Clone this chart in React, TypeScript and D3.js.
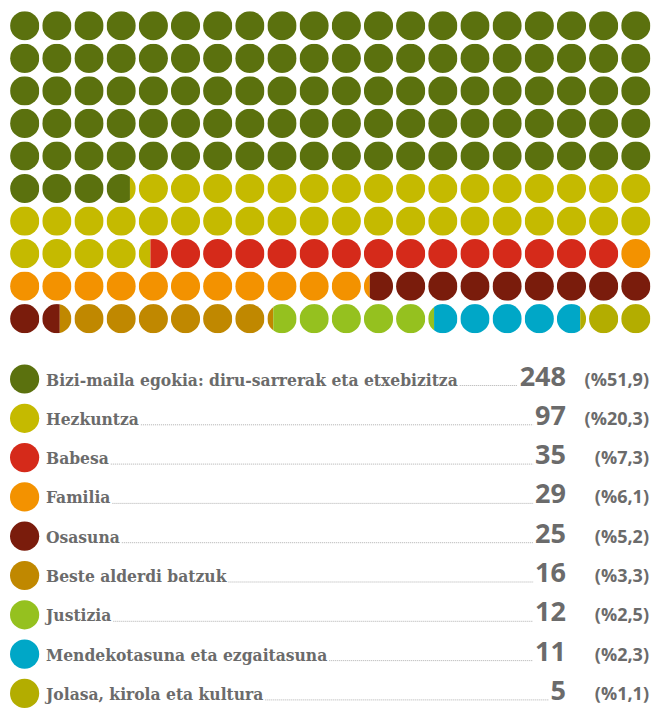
import React, { useRef, useEffect } from 'react'
import * as d3 from 'd3'

const categories = [
  'Bizi-maila egokia: diru-sarrerak eta etxebizitza',
  'Hezkuntza',
  'Babesa',
  'Familia',
  'Osasuna',
  'Beste alderdi batzuk',
  'Justizia',
  'Mendekotasuna eta ezgaitasuna',
  'Jolasa, kirola eta kultura'
]
const counts = [248, 97, 35, 29, 25, 16, 12, 11, 5]
const percents = [51.9, 20.3, 7.3, 6.1, 5.2, 3.3, 2.5, 2.3, 1.1]
const percentLabels = ['(%51,9)', '(%20,3)', '(%7,3)', '(%6,1)', '(%5,2)', '(%3,3)', '(%2,5)', '(%2,3)', '(%1,1)']
const colors = ['#5b710e', '#c5ba00', '#d52a1a', '#f39200', '#7a1c0c', '#c08800', '#95c11f', '#00a7c7', '#b3ad00']

const W = 652
const H = 712
const COLS = 20
const ROWS = 10
const UNIT = 0.5 // each circle = %0,5
const R = 14.6
const TEXT = '#6b6b6b'

export default function App() {
  const svgRef = useRef<SVGSVGElement>(null)

  useEffect(() => {
    if (!svgRef.current) return
    const svg = d3.select(svgRef.current)
    svg.selectAll('*').remove()

    const x = d3.scaleLinear().domain([0, COLS - 1]).range([24.7, 635.8])
    const y = d3.scaleLinear().domain([0, ROWS - 1]).range([25.8, 318.7])

    // segment bounds in circle units
    const ends = d3.cumsum(percents.map(p => p / UNIT))
    const segs = percents.map((p, i) => ({ start: i === 0 ? 0 : ends[i - 1], end: ends[i], color: colors[i] }))

    const defs = svg.append('defs')
    const waffle = svg.append('g')

    d3.range(COLS * ROWS).forEach(i => {
      const cx = x(i % COLS)
      const cy = y(Math.floor(i / COLS))
      defs.append('clipPath').attr('id', `dot${i}`)
        .append('circle').attr('cx', cx).attr('cy', cy).attr('r', R)
      const g = waffle.append('g').attr('clip-path', `url(#dot${i})`)
      const fx = d3.scaleLinear().domain([i, i + 1]).range([cx - R, cx + R])
      segs.filter(s => s.end > i && s.start < i + 1).forEach(s => {
        const a = fx(Math.max(s.start, i))
        const b = fx(Math.min(s.end, i + 1))
        g.append('rect')
          .attr('x', a).attr('y', cy - R)
          .attr('width', b - a).attr('height', 2 * R)
          .attr('fill', s.color)
      })
    })

    // legend
    const ly = d3.scaleLinear().domain([0, categories.length - 1]).range([379, 693.4])
    const legend = svg.append('g')
    categories.forEach((c, i) => {
      const cy = ly(i)
      const base = cy + 6.5
      const row = legend.append('g')
      row.append('circle').attr('cx', 24.6).attr('cy', cy).attr('r', R).attr('fill', colors[i])
      const label = row.append('text')
        .attr('x', 46).attr('y', base)
        .style('font-family', '"DejaVu Serif Condensed", "DejaVu Serif", serif')
        .style('font-weight', '700')
        .style('font-size', '17.3px')
        .attr('fill', TEXT)
        .text(c)
      const num = row.append('text')
        .attr('x', 566).attr('y', base)
        .attr('text-anchor', 'end')
        .style('font-family', '"Open Sans", sans-serif')
        .style('font-weight', 'bold')
        .style('font-size', '27px')
        .attr('fill', TEXT)
        .text(String(counts[i]))
      row.append('text')
        .attr('x', 649).attr('y', base)
        .attr('text-anchor', 'end')
        .style('font-family', '"Open Sans", sans-serif')
        .style('font-weight', 'bold')
        .style('font-size', '18px')
        .attr('fill', TEXT)
        .text(percentLabels[i])

      const lw = (label.node() as SVGTextElement).getComputedTextLength()
      const nw = (num.node() as SVGTextElement).getComputedTextLength()
      row.append('line')
        .attr('x1', 46 + lw + 2).attr('x2', 566 - nw - 2)
        .attr('y1', base).attr('y2', base)
        .attr('stroke', '#9a9a9a')
        .attr('stroke-width', 0.8)
        .attr('stroke-dasharray', '1,1')
    })
  }, [])

  return (
    <svg
      ref={svgRef}
      width={W}
      height={H}
      style={{ position: 'absolute', left: 0, top: 0, background: '#fff' }}
    />
  )
}
